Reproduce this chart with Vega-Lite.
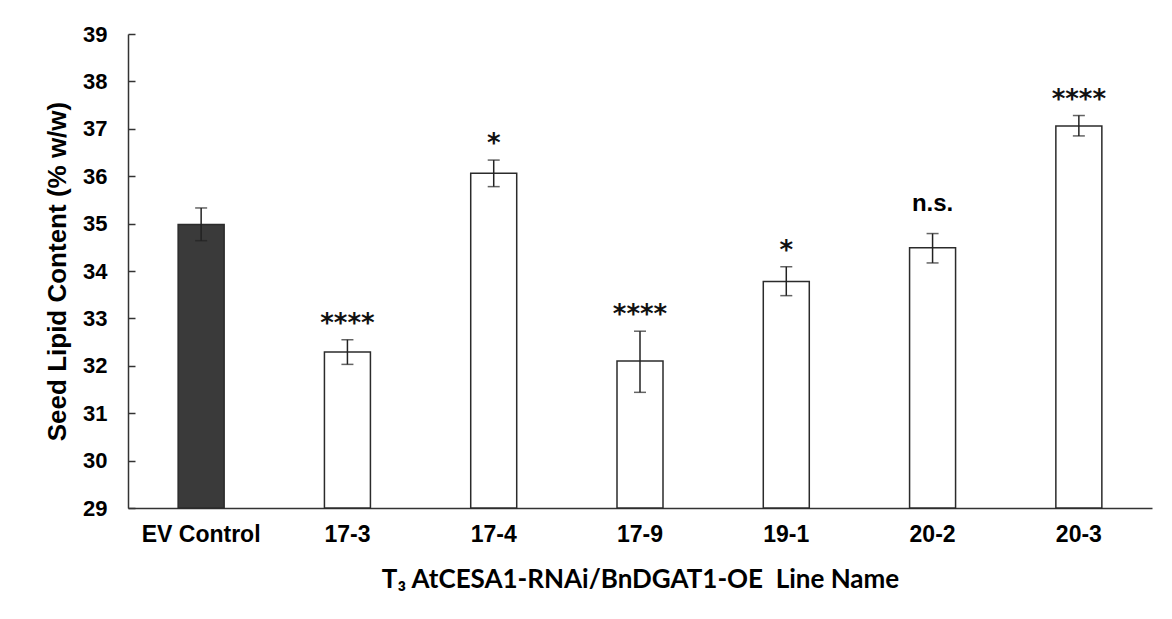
{
  "$schema": "https://vega.github.io/schema/vega-lite/v6.json",
  "autosize": "none",
  "padding": {"left": 128, "top": 34, "right": 20, "bottom": 111},
  "width": 1024,
  "height": 474,
  "background": "white",
  "config": {"view": {"stroke": null}},
  "data": {
    "values": [
      {"line": "EV Control", "value": 34.98, "lo": 34.64, "hi": 35.33, "sig": "", "group": "control"},
      {"line": "17-3", "value": 32.29, "lo": 32.03, "hi": 32.55, "sig": "****", "group": "line"},
      {"line": "17-4", "value": 36.06, "lo": 35.78, "hi": 36.34, "sig": "*", "group": "line"},
      {"line": "17-9", "value": 32.10, "lo": 31.44, "hi": 32.73, "sig": "****", "group": "line"},
      {"line": "19-1", "value": 33.78, "lo": 33.48, "hi": 34.09, "sig": "*", "group": "line"},
      {"line": "20-2", "value": 34.49, "lo": 34.17, "hi": 34.79, "sig": "n.s.", "group": "line"},
      {"line": "20-3", "value": 37.06, "lo": 36.85, "hi": 37.28, "sig": "****", "group": "line"}
    ]
  },
  "encoding": {
    "x": {
      "field": "line",
      "type": "nominal",
      "sort": null,
      "scale": {"paddingInner": 0, "paddingOuter": 0},
      "axis": {
        "title": "T₃ AtCESA1-RNAi/BnDGAT1-OE\u00a0 Line Name",
        "titleFont": "Lato",
        "titleFontSize": 26,
        "titleFontWeight": "bold",
        "titleColor": "#000000",
        "titlePadding": 20,
        "labelFont": "Liberation Sans",
        "labelFontSize": 23,
        "labelFontWeight": "bold",
        "labelColor": "#000000",
        "labelAngle": 0,
        "labelPadding": 15,
        "ticks": false,
        "domainColor": "#333333",
        "domainWidth": 1.5,
        "grid": false
      }
    }
  },
  "layer": [
    {
      "mark": {"type": "bar", "size": 46, "stroke": "#2b2b2b", "strokeWidth": 1.5},
      "encoding": {
        "y": {
          "field": "value",
          "type": "quantitative",
          "title": "Seed Lipid Content (% w/w)",
          "scale": {"domain": [29, 39], "zero": false, "nice": false},
          "axis": {
            "titleFont": "Liberation Sans",
            "titleFontSize": 26,
            "titleFontWeight": "bold",
            "titleColor": "#000000",
            "titlePadding": 12,
            "values": [29, 30, 31, 32, 33, 34, 35, 36, 37, 38, 39],
            "labelFont": "Liberation Sans",
            "labelFontSize": 22,
            "labelFontWeight": "bold",
            "labelColor": "#000000",
            "labelPadding": 28,
            "tickSize": -7,
            "tickColor": "#333333",
            "tickWidth": 1.5,
            "domainColor": "#333333",
            "domainWidth": 1.5,
            "grid": false
          }
        },
        "y2": {"datum": 29},
        "color": {
          "field": "group",
          "type": "nominal",
          "scale": {"domain": ["control", "line"], "range": ["#3a3a3a", "#ffffff"]},
          "legend": null
        }
      }
    },
    {
      "mark": {"type": "errorbar", "ticks": {"size": 12, "thickness": 1.5, "color": "#222222"}, "rule": {"strokeWidth": 1.5, "color": "#222222"}},
      "encoding": {
        "y": {"field": "lo", "type": "quantitative", "title": "Seed Lipid Content (% w/w)"},
        "y2": {"field": "hi"}
      }
    },
    {
      "transform": [{"filter": "indexof(datum.sig, '*') >= 0"}],
      "mark": {"type": "text", "font": "DejaVu Sans", "fontWeight": "bold", "fontSize": 26, "baseline": "alphabetic", "dy": -8, "color": "#111111"},
      "encoding": {
        "y": {"field": "hi", "type": "quantitative", "title": "Seed Lipid Content (% w/w)"},
        "text": {"field": "sig"}
      }
    },
    {
      "transform": [{"filter": "datum.sig == 'n.s.'"}],
      "mark": {"type": "text", "font": "Liberation Sans", "fontWeight": "bold", "fontSize": 24, "baseline": "alphabetic", "dy": -23, "color": "#000000"},
      "encoding": {
        "y": {"field": "hi", "type": "quantitative", "title": "Seed Lipid Content (% w/w)"},
        "text": {"field": "sig"}
      }
    }
  ]
}
